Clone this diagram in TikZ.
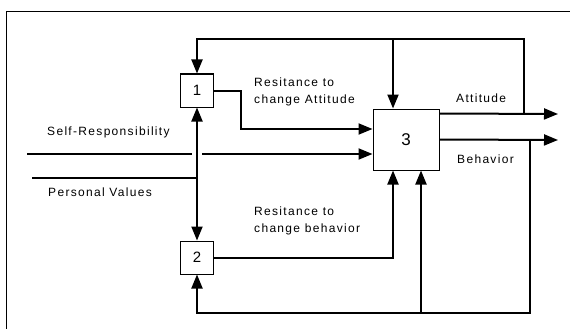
\documentclass[tikz,border=0pt]{standalone}
\usepackage{fontspec}
\setmainfont{Liberation Sans}[LetterSpace=11]
\usetikzlibrary{arrows.meta,positioning,calc}

\begin{document}
\begin{tikzpicture}[x=1pt,y=-1pt,
    box/.style={draw,line width=1pt,minimum width=33pt,minimum height=33pt,inner sep=0pt,font=\fontsize{15}{15}\selectfont},
    flow/.style={line width=2pt,-{Triangle[length=14pt,width=11pt]}},
    wire/.style={line width=2pt},
    lbl/.style={font=\fontsize{12}{17}\selectfont,inner sep=0pt,align=left}]
    \useasboundingbox (0,0) rectangle (570,329);
    % frame
    \draw[line width=0.8pt] (570,11) -- (6,11) -- (6,329);
    % boxes
    \node[box](b1) at (197,90.5){1};
    \node[box](b2) at (197,257.5){2};
    \node[box,minimum width=66pt,minimum height=61pt,font=\fontsize{17}{17}\selectfont](b3) at (406,139.5){3};
    % points on the wires
    \coordinate (sr) at (27,154);
    \coordinate (srgap) at (192,154);
    \coordinate (srgo) at (202,154);
    \coordinate (pv) at (32,178);
    \coordinate (pvj) at (197,178);
    \coordinate (ra) at (241,129);
    \coordinate (ja) at (524,114);
    \coordinate (topr) at (524,39);
    \coordinate (topl) at (197,39);
    \coordinate (tj) at (393,39);
    \coordinate (jb) at (530,140);
    \coordinate (botr) at (530,313);
    \coordinate (botl) at (197,313);
    \coordinate (bj) at (421,313);
    \coordinate (outA) at (558,114);
    \coordinate (outB) at (558,140);
    % inputs
    \draw[wire] (sr) -- (srgap);
    \draw[flow] (srgo) -- (b3.west |- srgo);
    \draw[wire] (pv) -- (pvj);
    \draw[flow] (pvj) -- (b1.south);
    \draw[flow] (pvj) -- (b2.north);
    \draw[flow] (b1.east) -| (ra) -- (b3.west |- ra);
    \draw[flow] (b2.east) -| (tj |- b3.south);
    % outputs and feedback
    \draw[flow] ([yshift=-5pt]b3.north east) -- (outA);
    \draw[flow] (b3.east) -- (outB);
    \draw[flow] (ja) -- (topr) -- (topl) -- (b1.north);
    \draw[flow] (tj) -- (tj |- b3.north);
    \draw[flow] (jb) -- (botr) -- (botl) -- (b2.south);
    \draw[flow] (bj) -- (bj |- b3.south);
    % labels
    \node[lbl,anchor=base west](lsr) at (47,135){Self-Responsibility};
    \node[lbl,anchor=base west](lpv) at (48,196){Personal Values};
    \node[lbl,anchor=base west](lra) at (254,103){Resitance to\\change Attitude};
    \node[lbl,anchor=base west](lrb) at (254,232){Resitance to\\change behavior};
    \node[lbl,anchor=base west](la) at (456,102){Attitude};
    \node[lbl,anchor=base west](lb) at (457,163){Behavior};
\end{tikzpicture}
\end{document}
